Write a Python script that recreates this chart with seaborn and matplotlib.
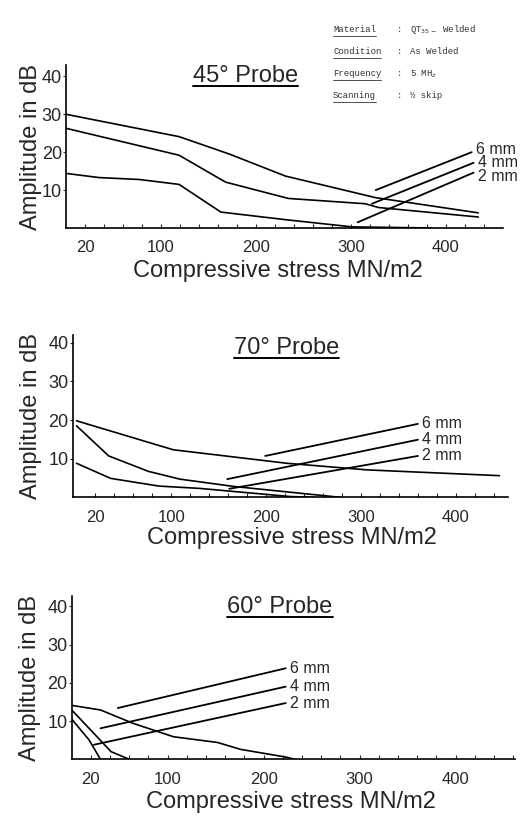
import pandas as pd
import matplotlib.pyplot as plt
import seaborn as sns
from matplotlib.lines import Line2D

# ─── Data ───────────────────────────────────────────────────
thickness = ['6 mm', '4 mm', '2 mm']

# 45° probe
p45_x_6 = [0, 119, 172, 231, 326, 434]
p45_y_6 = [30, 24.1, 19.5, 13.7, 8.0, 4.0]
p45_x_4 = [0, 119, 168, 234, 315, 329, 434]
p45_y_4 = [26.3, 19.2, 12.1, 7.8, 6.4, 5.4, 2.9]
p45_x_2 = [0, 35, 77, 119, 163, 231, 301, 385]
p45_y_2 = [14.4, 13.3, 12.8, 11.5, 4.2, 2.2, 0.3, 0]

# 70° probe
p70_x_6 = [0, 102, 222, 306, 446]
p70_y_6 = [19.8, 12.3, 8.8, 7.1, 5.6]
p70_x_4 = [0, 34, 76, 109, 166, 278]
p70_y_4 = [18.5, 10.7, 6.7, 4.7, 2.8, 0]
p70_x_2 = [0, 36, 87, 130, 225, 250]
p70_y_2 = [8.8, 4.9, 2.9, 2.3, 0.2, 0]

# 60° probe
p60_x_6 = [0, 30, 64, 106, 152, 176, 225, 232]
p60_y_6 = [14.1, 12.9, 9.4, 5.9, 4.4, 2.6, 0.5, 0]
p60_x_4 = [0, 23, 41, 60]
p60_y_4 = [12.9, 6.8, 2.0, 0]
p60_x_2 = [0, 18, 30]
p60_y_2 = [10.5, 5.1, 0]

# leader lines to the thickness labels: (x0, y0, x1, y1)
p45_leaders = [(326, 10.0, 427, 20.0), (322, 6.4, 429, 17.2), (307, 1.5, 429, 14.6)]
p70_leaders = [(199, 10.7, 360, 19.0), (159, 4.7, 360, 14.9), (161, 2.2, 360, 10.7)]
p60_leaders = [(48, 13.4, 223, 23.8), (30, 8.1, 223, 19.0), (23, 3.8, 223, 14.7)]

x_ticks = [20, 100, 200, 300, 400]
y_ticks = [10, 20, 30, 40]

info_keys = ['Material', 'Condition', 'Frequency', 'Scanning']
info_vals = [r'QT$_{35-}$ Welded', 'As Welded', r'5 MH$_z$', '½ skip']

# ─── Style ──────────────────────────────────────────────────
sns.set_style('ticks')
plt.rcParams['font.family'] = ['Liberation Sans', 'DejaVu Sans']

fig = plt.figure(figsize=(5.24, 8.17), dpi=100)
W, H = 524, 817


def long_df(xs, ys):
    rows = []
    for name, x, y in zip(thickness, xs, ys):
        for a, b in zip(x, y):
            rows.append({'thickness': name, 'stress': a, 'amp': b})
    return pd.DataFrame(rows)


def add_panel(rect, xs, ys, leaders, title, xlim, ylim, title_pos, xlabel_pos, ylabel_x,
              label_nudge=(0, 0, 0)):
    left, top, right, base = rect
    ax = fig.add_axes([left / W, 1 - base / H, (right - left) / W, (base - top) / H])
    df = long_df(xs, ys)
    sns.lineplot(data=df, x='stress', y='amp', units='thickness', estimator=None,
                 sort=False, color='black', lw=1.2, ax=ax)

    # thickness labels with their leader lines
    for (x0, y0, x1, y1), name, dy in zip(leaders, thickness, label_nudge):
        ax.plot([x0, x1], [y0, y1], color='black', lw=1.3, clip_on=False)
        ax.annotate(name, (x1, y1), xytext=(3, dy), textcoords='offset points',
                    fontsize=11.5, ha='left', va='center', annotation_clip=False)

    ax.set_xlim(*xlim)
    ax.set_ylim(*ylim)
    sns.despine(ax=ax)
    for s in ['left', 'bottom']:
        ax.spines[s].set_linewidth(1.2)
        ax.spines[s].set_color('black')

    ax.set_xticks(x_ticks)
    ax.set_xticks(range(20, int(xlim[1]), 20), minor=True)
    ax.set_yticks(y_ticks)
    ax.tick_params(axis='x', which='both', direction='in', length=3, width=0.8, pad=9,
                   labelsize=12)
    ax.tick_params(axis='y', direction='out', length=2, width=0.8, pad=1, labelsize=13)

    ax.set_xlabel('Compressive stress MN/m2', fontsize=17)
    ax.set_ylabel('Amplitude in dB', fontsize=17)
    ax.xaxis.label.set_va('center')
    ax.yaxis.label.set_va('center')
    ax.xaxis.set_label_coords(*xlabel_pos)
    ax.yaxis.set_label_coords(ylabel_x, 0.5)

    t = ax.text(title_pos[0], title_pos[1], title, transform=ax.transAxes,
                fontsize=17, ha='center', va='baseline')
    return t


titles = []
titles.append(add_panel((66, 65, 503, 228), [p45_x_6, p45_x_4, p45_x_2],
                        [p45_y_6, p45_y_4, p45_y_2], p45_leaders, '45° Probe',
                        (0, 460), (0, 43), (0.41, 0.896), (0.485, -0.264), -0.08,
                        label_nudge=(2, 0, -3)))
titles.append(add_panel((72.7, 335, 508, 497.3), [p70_x_6, p70_x_4, p70_x_2],
                        [p70_y_6, p70_y_4, p70_y_2], p70_leaders, '70° Probe',
                        (-4, 455), (0, 42), (0.492, 0.885), (0.504, -0.251), -0.095))
titles.append(add_panel((71.7, 596, 515, 759.3), [p60_x_6, p60_x_4, p60_x_2],
                        [p60_y_6, p60_y_4, p60_y_2], p60_leaders, '60° Probe',
                        (0, 462), (0, 42.7), (0.47, 0.894), (0.495, -0.261), -0.093))

# ─── Specimen info block (typewriter text) ──────────────────
info_texts = []
for i, (k, v) in enumerate(zip(info_keys, info_vals)):
    y = 1 - (30 + i * 22) / H
    info_texts.append(fig.text(333 / W, y, k, fontsize=6.5, family='Liberation Mono',
                               color='#333333', va='center'))
    fig.text(397 / W, y, ':', fontsize=6.5, family='Liberation Mono', color='#333333',
             va='center')
    fig.text(410 / W, y, v, fontsize=6.5, family='Liberation Mono', color='#333333',
             va='center')

# ─── Underlines ─────────────────────────────────────────────
fig.canvas.draw()
renderer = fig.canvas.get_renderer()


def underline(txt, offset, lw, color):
    bb = txt.get_window_extent(renderer)
    y = (bb.y0 - offset) / fig.bbox.height
    fig.add_artist(Line2D([bb.x0 / fig.bbox.width, bb.x1 / fig.bbox.width], [y, y],
                          color=color, lw=lw))


for t in titles:
    underline(t, -1, 1.4, 'black')
for t in info_texts:
    underline(t, 1, 0.6, '#333333')

fig.savefig('out.png', dpi=100)
